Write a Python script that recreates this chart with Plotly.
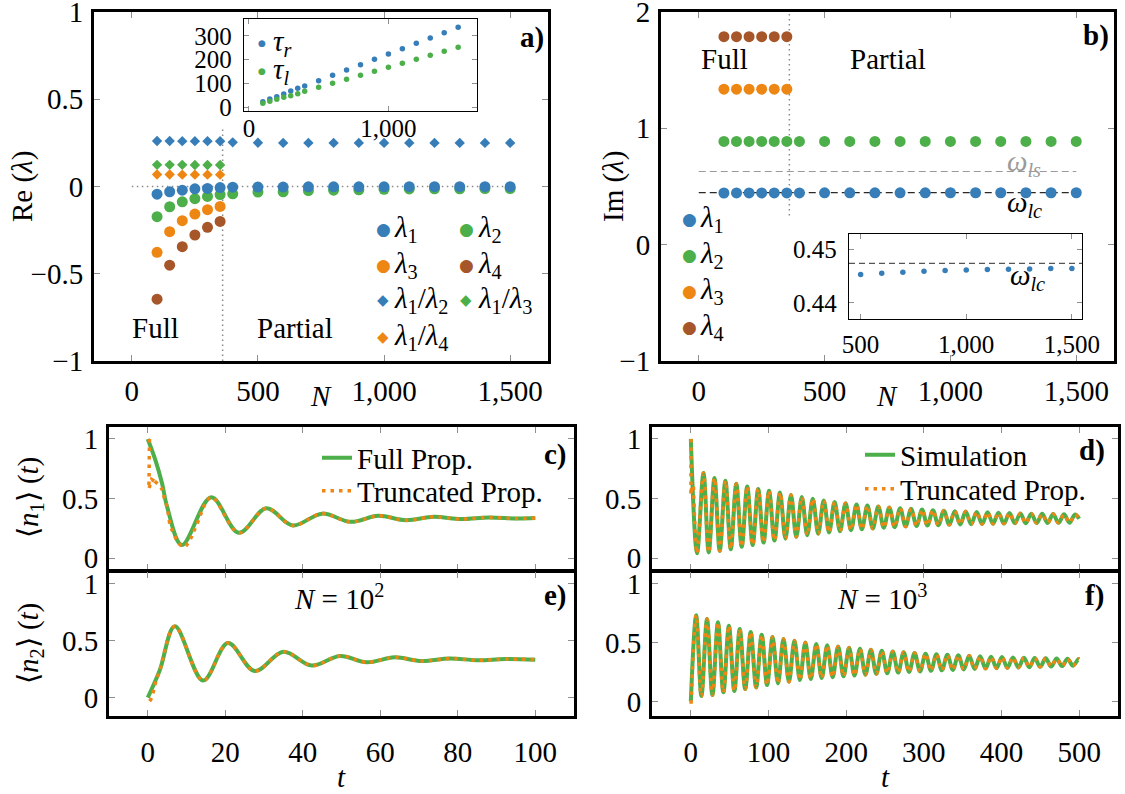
import plotly.graph_objects as go

W, H = 1125, 794
FONT = "Liberation Serif"
FS = 29          # main text size
FSI = 25         # inset tick labels
BLUE, GREEN, ORANGE, BROWN = "#377eb8", "#4daf4a", "#ee8614", "#a65628"

# ---------------- panels a) and b): eigenvalues vs N ----------------
N_all = [100, 150, 200, 250, 300, 350, 400, 500, 600, 700, 800, 900, 1000, 1100, 1200, 1300, 1400, 1500]
N_full = [100, 150, 200, 250, 300, 350]
N_line = [0, 1500]
N_boundary = 360

re_l1 = [-0.044, -0.030, -0.021, -0.013, -0.011, -0.006, -0.004, -0.003, -0.003,
         -0.002, -0.002, -0.002, -0.002, -0.001, -0.001, -0.001, -0.001, -0.001]
re_l2 = [-0.173, -0.116, -0.088, -0.070, -0.057, -0.046, -0.042, -0.032, -0.030,
         -0.023, -0.021, -0.019, -0.016, -0.014, -0.013, -0.013, -0.012, -0.012]
re_l3 = [-0.377, -0.259, -0.196, -0.158, -0.133, -0.114]
re_l4 = [-0.646, -0.451, -0.345, -0.278, -0.234, -0.200]
re_l1_l2 = [0.261, 0.261, 0.260, 0.260, 0.260, 0.259, 0.253, 0.251, 0.250,
            0.250, 0.250, 0.250, 0.250, 0.250, 0.250, 0.250, 0.250, 0.250]
re_l1_l3 = [0.124, 0.124, 0.124, 0.123, 0.123, 0.123]
re_l1_l4 = [0.069, 0.069, 0.068, 0.068, 0.068, 0.068]
re_boundary_y = [-1.0, 0.33]
re_zero_y = [0.0, 0.0]

tau_r = [23.7, 34.9, 44.7, 55.9, 68.5, 79.8, 89.5, 111.9, 134.3, 156.7, 179.0,
         201.6, 224.0, 246.4, 268.8, 291.2, 313.6, 336.0]
tau_l = [16.8, 25.2, 33.6, 42.0, 48.9, 57.3, 67.2, 84.0, 100.8, 117.6, 134.4,
         151.2, 168.0, 184.9, 201.7, 218.5, 235.3, 252.1]

im_l1 = [0.4440, 0.4443, 0.4446, 0.4448, 0.4450, 0.4451, 0.4452, 0.4453, 0.4456,
         0.4457, 0.4459, 0.4461, 0.4462, 0.4463, 0.4463, 0.4464, 0.4464, 0.4464]
im_l2 = [0.887, 0.887, 0.887, 0.887, 0.887, 0.887, 0.887, 0.887, 0.887,
         0.887, 0.887, 0.887, 0.887, 0.887, 0.887, 0.887, 0.887, 0.887]
im_l3 = [1.337, 1.337, 1.337, 1.337, 1.337, 1.337]
im_l4 = [1.788, 1.788, 1.788, 1.788, 1.788, 1.788]
omega_ls = 0.629
omega_lc = 0.4474
im_boundary_y = [0.25, 2.0]

N_zoom = [500, 600, 700, 800, 900, 1000, 1100, 1200, 1300, 1400, 1500]
im_l1_zoom = [0.44531, 0.44556, 0.44574, 0.44593, 0.44606, 0.44617, 0.44625,
              0.44631, 0.44636, 0.44644, 0.44644]
N_zoom_line = [445, 1548]

# ---------------- panels c) and e): N = 100 ----------------
c_t = [0, 2.0, 3.7, 5.0, 8.8, 16.4, 23.5, 30.6, 37.4, 45.0, 52.4, 59.5, 66.6, 73.8, 80.9, 88.0, 95.2, 100]
c_v = [1.0, 0.82, 0.626, 0.43, 0.11, 0.51, 0.212, 0.418, 0.274, 0.373, 0.304, 0.355,
       0.318, 0.346, 0.327, 0.341, 0.332, 0.336]
c_tr_start_t = [0.45, 0.3, 1.0, 1.8]
c_tr_start_v = [1.0, 0.58, 0.66, 0.645]
c_tr_early_t = [1.8, 3.7, 4.3, 5.0, 5.8, 6.8, 7.8, 9.4, 11.0, 12.5]
c_tr_early_v = [0.645, 0.576, 0.50, 0.43, 0.276, 0.20, 0.133, 0.093, 0.16, 0.27]

e_t = [0, 3.1, 7.0, 14.3, 20.7, 27.6, 35.0, 42.3, 49.6, 56.5, 63.7, 70.7, 77.9, 85.0, 92.2, 100]
e_v = [0.0, 0.24, 0.625, 0.15, 0.478, 0.233, 0.402, 0.281, 0.366, 0.31, 0.353, 0.321,
       0.343, 0.328, 0.338, 0.333]
e_tr_start_t = [0.5, 1.0, 2.0]
e_tr_start_v = [-0.03, 0.0, 0.13]

# ---------------- panels d) and f): N = 1000 (extrema read off the curves) ----------------
d_start = (0.0, 1.0)
d_end = (500.0, 0.33)
d_trough_t = [8.0, 23.0, 37.2, 51.4, 65.5, 79.6, 93.6, 107.7, 121.8, 135.8, 149.9, 164.0,
              178.0, 192.1, 206.2, 220.2, 234.3, 248.4, 262.4, 276.5, 290.6, 304.6, 318.7,
              332.8, 346.8, 360.9, 375.0, 389.0, 403.1, 417.2, 431.2, 445.3, 459.4, 473.4, 487.5]
d_trough_v = [0.040, 0.047, 0.060, 0.075, 0.095, 0.110, 0.130, 0.148, 0.163, 0.178, 0.192,
              0.205, 0.215, 0.225, 0.234, 0.242, 0.249, 0.255, 0.260, 0.265, 0.269, 0.273,
              0.276, 0.279, 0.282, 0.284, 0.286, 0.288, 0.290, 0.292, 0.293, 0.294, 0.295,
              0.296, 0.297]
d_peak_t = [16.3, 30.4, 44.5, 58.5, 72.6, 86.7, 100.7, 114.8, 128.9, 142.9, 157.0, 171.1,
            185.1, 199.2, 213.3, 227.3, 241.4, 255.5, 269.5, 283.6, 297.7, 311.7, 325.8,
            339.9, 353.9, 368.0, 382.1, 396.1, 410.2, 424.3, 438.3, 452.4, 466.5, 480.5, 494.6]
d_peak_v = [0.713, 0.673, 0.650, 0.623, 0.600, 0.580, 0.564, 0.550, 0.530, 0.512, 0.497,
            0.483, 0.470, 0.460, 0.450, 0.441, 0.433, 0.425, 0.419, 0.413, 0.407, 0.402,
            0.398, 0.394, 0.390, 0.387, 0.384, 0.381, 0.378, 0.375, 0.373, 0.371, 0.369,
            0.367, 0.365]
d_tr_start_t = [0.25, 0.15, 1.2, 3.4]
d_tr_start_v = [1.0, 0.53, 0.60, 0.60]

f_start = (0.0, 0.0)
f_end = (500.0, 0.359)
f_peak_t = [6.9, 20.8, 34.9, 49.0, 63.0, 77.1, 91.2, 105.2, 119.3, 133.4, 147.4, 161.5,
            175.6, 189.6, 203.7, 217.8, 231.8, 245.9, 260.0, 274.0, 288.1, 302.2, 316.2,
            330.3, 344.4, 358.4, 372.5, 386.6, 400.6, 414.7, 428.8, 442.8, 456.9, 471.0,
            485.0, 499.1]
f_peak_v = [0.733, 0.700, 0.672, 0.644, 0.616, 0.590, 0.567, 0.547, 0.530, 0.515, 0.500,
            0.488, 0.477, 0.466, 0.456, 0.447, 0.439, 0.431, 0.424, 0.418, 0.412, 0.406,
            0.401, 0.396, 0.392, 0.388, 0.384, 0.380, 0.377, 0.374, 0.371, 0.368, 0.366,
            0.364, 0.362, 0.360]
f_trough_t = [13.6, 27.8, 41.9, 56.0, 70.0, 84.1, 98.2, 112.2, 126.3, 140.4, 154.4, 168.5,
              182.6, 196.6, 210.7, 224.8, 238.8, 252.9, 267.0, 281.0, 295.1, 309.2, 323.2,
              337.3, 351.4, 365.4, 379.5, 393.6, 407.6, 421.7, 435.8, 449.8, 463.9, 478.0, 492.0]
f_trough_v = [0.045, 0.054, 0.077, 0.088, 0.105, 0.119, 0.139, 0.153, 0.167, 0.181, 0.190,
              0.198, 0.206, 0.213, 0.220, 0.227, 0.233, 0.239, 0.245, 0.250, 0.255, 0.260,
              0.264, 0.268, 0.272, 0.276, 0.279, 0.282, 0.285, 0.288, 0.291, 0.294, 0.297,
              0.300, 0.303]
f_tr_start_t = [0.3]
f_tr_start_v = [-0.02]

# ---------------- assemble curves from extrema ----------------
d_t, d_v = [d_start[0]], [d_start[1]]
for a, b, c, e in zip(d_trough_t, d_trough_v, d_peak_t, d_peak_v):
    d_t += [a, c]
    d_v += [b, e]
d_t.append(d_end[0]); d_v.append(d_end[1])

f_t, f_v = [f_start[0]], [f_start[1]]
for i in range(len(f_peak_t)):
    f_t.append(f_peak_t[i]); f_v.append(f_peak_v[i])
    if i < len(f_trough_t):
        f_t.append(f_trough_t[i]); f_v.append(f_trough_v[i])
f_t.append(f_end[0]); f_v.append(f_end[1])

# ---------------- helpers ----------------
def dom_x(x0, x1):
    return [x0 / W, x1 / W]

def dom_y(top, bottom):
    return [1 - bottom / H, 1 - top / H]

def P(x, y):
    return x / W, 1 - y / H

def axis(domain, rng, anchor, tickvals, ticktext=None, lw=3, tl=6, labels=True,
         standoff=None, size=FS):
    d = dict(domain=domain, range=rng, anchor=anchor, tickmode="array", tickvals=tickvals,
             showline=True, linewidth=lw, linecolor="black", mirror="allticks",
             ticks="inside", ticklen=tl, tickwidth=1, tickcolor="#8f8f8f",
             showgrid=False, zeroline=False, showticklabels=labels, fixedrange=True,
             ticklabeloverflow="allow", automargin=False,
             tickfont=dict(family=FONT, size=size, color="black"))
    if ticktext is not None:
        d["ticktext"] = ticktext
    if standoff is not None:
        d["ticklabelstandoff"] = standoff
    return d

def pts(x, y, ax, color, size, symbol="circle"):
    return go.Scatter(x=x, y=y, mode="markers", xaxis="x" + ax, yaxis="y" + ax,
                      marker=dict(color=color, size=size, symbol=symbol, line=dict(width=0)),
                      showlegend=False, hoverinfo="skip")

def ln(x, y, ax, color, width, dash="solid", shape="linear", name=None, legend=None):
    t = go.Scatter(x=x, y=y, mode="lines", xaxis="x" + ax, yaxis="y" + ax,
                   line=dict(color=color, width=width, dash=dash, shape=shape, smoothing=1.0),
                   hoverinfo="skip", showlegend=name is not None, name=name or "")
    if legend:
        t.legend = legend
    return t

def note(text, x, y, size=FS, color="black", xanchor="center", yanchor="middle",
         xref="paper", yref="paper", angle=0, family=FONT):
    return dict(text=text, x=x, y=y, xref=xref, yref=yref, showarrow=False,
                font=dict(family=family, size=size, color=color),
                xanchor=xanchor, yanchor=yanchor, textangle=angle)

fig = go.Figure()

# ---- a) ----
fig.add_trace(ln(N_line, re_zero_y, "", "#8a8a8a", 1.5, dash="1.5px,3.5px"))
fig.add_trace(ln([N_boundary, N_boundary], re_boundary_y, "", "#8a8a8a", 1.5, dash="1.5px,3.5px"))
fig.add_trace(pts(N_all, re_l1_l2, "", BLUE, 8, "diamond"))
fig.add_trace(pts(N_full, re_l1_l3, "", GREEN, 8, "diamond"))
fig.add_trace(pts(N_full, re_l1_l4, "", ORANGE, 8, "diamond"))
fig.add_trace(pts(N_full, re_l4, "", BROWN, 11))
fig.add_trace(pts(N_full, re_l3, "", ORANGE, 11))
fig.add_trace(pts(N_all, re_l2, "", GREEN, 11))
fig.add_trace(pts(N_all, re_l1, "", BLUE, 11))
# inset a
fig.add_trace(pts(N_all, tau_r, "2", BLUE, 5.5))
fig.add_trace(pts(N_all, tau_l, "2", GREEN, 5.5))

# ---- b) ----
fig.add_trace(ln([N_boundary, N_boundary], im_boundary_y, "3", "#8a8a8a", 1.5, dash="1.5px,3.5px"))
fig.add_trace(ln(N_line, [omega_ls, omega_ls], "3", "#9a9a9a", 1.2, dash="7px,4px"))
fig.add_trace(ln(N_line, [omega_lc, omega_lc], "3", "#2a2a2a", 1.2, dash="7px,4px"))
fig.add_trace(pts(N_full, im_l4, "3", BROWN, 11))
fig.add_trace(pts(N_full, im_l3, "3", ORANGE, 11))
fig.add_trace(pts(N_all, im_l2, "3", GREEN, 11))
fig.add_trace(pts(N_all, im_l1, "3", BLUE, 11))
# inset b
fig.add_trace(ln(N_zoom_line, [omega_lc, omega_lc], "4", "#555555", 1.3, dash="6px,4px"))
fig.add_trace(pts(N_zoom, im_l1_zoom, "4", BLUE, 5.5))

# ---- c) ----
fig.add_trace(ln(c_t, c_v, "5", GREEN, 4, shape="spline", name="Full Prop.", legend="legend"))
fig.add_trace(ln(c_tr_start_t, c_tr_start_v, "5", ORANGE, 3.5, dash="3.5px,5px"))
fig.add_trace(ln(c_tr_early_t + c_t[5:], c_tr_early_v + c_v[5:], "5", ORANGE, 3.5,
                 dash="3.5px,5px", shape="spline", name="Truncated Prop.", legend="legend3"))
# ---- e) ----
fig.add_trace(ln(e_t, e_v, "7", GREEN, 4, shape="spline"))
fig.add_trace(ln(e_tr_start_t + e_t[1:], e_tr_start_v + e_v[1:], "7", ORANGE, 3.5,
                 dash="3.5px,5px", shape="spline"))
# ---- d) ----
fig.add_trace(ln(d_t, d_v, "6", GREEN, 4, shape="spline", name="Simulation", legend="legend2"))
fig.add_trace(ln(d_tr_start_t, d_tr_start_v, "6", ORANGE, 3.5, dash="3.5px,5px"))
fig.add_trace(ln(d_tr_start_t[-1:] + d_t[1:], d_tr_start_v[-1:] + d_v[1:], "6", ORANGE, 3.5,
                 dash="3.5px,5px", shape="spline", name="Truncated Prop.", legend="legend4"))
# ---- f) ----
fig.add_trace(ln(f_t, f_v, "8", GREEN, 4, shape="spline"))
fig.add_trace(ln(f_tr_start_t + f_t[1:], f_tr_start_v + f_v[1:], "8", ORANGE, 3.5,
                 dash="3.5px,5px", shape="spline"))

# ---------------- axes ----------------
Nticks = [0, 500, 1000, 1500]
Nlabels = ["0", "500", "1,000", "1,500"]
lay = dict(
    xaxis=axis(dom_x(94, 548), [-150, 1650], "y", Nticks, Nlabels, standoff=2),
    yaxis=axis(dom_y(12, 361), [-1, 1], "x", [-1, -0.5, 0, 0.5, 1],
               ["\u22121", "\u22120.5", "0", "0.5", "1"], standoff=2),
    xaxis2=axis(dom_x(244, 477), [-35, 1635], "y2", [0, 1000], ["0", "1,000"], lw=1.3, tl=5,
                standoff=-5, size=FSI),
    yaxis2=axis(dom_y(19, 111), [-15.5, 371], "x2", [0, 100, 200, 300], lw=1.3, tl=5,
                standoff=6, size=FSI),
    xaxis3=axis(dom_x(661, 1114), [-150, 1650], "y3", Nticks, Nlabels, standoff=2),
    yaxis3=axis(dom_y(12, 361), [-1, 2], "x3", [-1, 0, 1, 2], ["\u22121", "0", "1", "2"], standoff=2),
    xaxis4=axis(dom_x(849, 1082), [445, 1548], "y4", [500, 1000, 1500], ["500", "1,000", "1,500"],
                lw=1.3, tl=5, standoff=3, size=FSI),
    yaxis4=axis(dom_y(234, 319), [0.437, 0.4529], "x4", [0.44, 0.45], ["0.44", "0.45"],
                lw=1.3, tl=5, standoff=6, size=FSI),
    xaxis5=axis(dom_x(109, 574), [-10, 110], "y5", [0, 20, 40, 60, 80, 100], labels=False),
    yaxis5=axis(dom_y(427, 570), [-0.1, 1.1], "x5", [0, 0.5, 1], ["0", "0.5", "1"], standoff=2),
    xaxis6=axis(dom_x(652, 1118), [-50, 550], "y6", [0, 100, 200, 300, 400, 500], labels=False),
    yaxis6=axis(dom_y(427, 570), [-0.1, 1.1], "x6", [0, 0.5, 1], ["0", "0.5", "1"], standoff=2),
    xaxis7=axis(dom_x(109, 574), [-10, 110], "y7", [0, 20, 40, 60, 80, 100], standoff=8),
    yaxis7=axis(dom_y(572, 716), [-0.16, 1.1], "x7", [0, 0.5, 1], ["0", "0.5", "1"], standoff=2),
    xaxis8=axis(dom_x(652, 1118), [-50, 550], "y8", [0, 100, 200, 300, 400, 500], standoff=8),
    yaxis8=axis(dom_y(572, 716), [-0.124, 1.1], "x8", [0, 0.5, 1], ["0", "0.5", "1"], standoff=2),
)

# ---------------- text ----------------
L = "<i>\u03bb</i>"
ann = []
# axis titles
ann.append(note("Re (" + L + ")", *P(23, 187), angle=-90))
ann.append(note("Im (" + L + ")", *P(614, 187), angle=-90))
ann.append(note("<i>N</i>", *P(321, 396)))
ann.append(note("<i>N</i>", *P(887, 396)))
ann.append(note("\u27e8<i>n</i><sub>1</sub>\u27e9 (<i>t</i>)", *P(30, 498), angle=-90))
ann.append(note("\u27e8<i>n</i><sub>2</sub>\u27e9 (<i>t</i>)", *P(30, 644), angle=-90))
ann.append(note("<i>t</i>", *P(341, 777)))
ann.append(note("<i>t</i>", *P(885, 777)))
# panel labels
for lab, x, y in [("a)", 546, 37), ("b)", 1111, 35), ("c)", 569, 455),
                  ("d)", 1107, 450), ("e)", 569, 595), ("f)", 1106, 595)]:
    ann.append(note("<b>" + lab + "</b>", *P(x, y), xanchor="right"))
# region labels
ann.append(note("Full", 95, -0.81, xref="x", yref="y"))
ann.append(note("Partial", 646, -0.81, xref="x", yref="y"))
ann.append(note("Full", 103, 1.60, xref="x3", yref="y3"))
ann.append(note("Partial", 752, 1.60, xref="x3", yref="y3"))
# omega labels
ann.append(note("<i>\u03c9</i><sub><i>ls</i></sub>", 1294, 0.70, xref="x3", yref="y3", color="#9a9a9a"))
ann.append(note("<i>\u03c9</i><sub><i>lc</i></sub>", 1294, 0.35, xref="x3", yref="y3"))
ann.append(note("<i>\u03c9</i><sub><i>lc</i></sub>", 1291, 0.4448, xref="x4", yref="y4"))
# N labels
ann.append(note("<i>N</i> = 10<sup>2</sup>", *P(339, 597)))
ann.append(note("<i>N</i> = 10<sup>3</sup>", *P(882, 597)))

# marker keys (a, b, inset a)
def key(glyph, color, gx, text, tx, y, gsize=17):
    ann.append(note(glyph, *P(gx, y), size=gsize, color=color, family="DejaVu Sans"))
    ann.append(note(text, *P(tx, y), xanchor="left"))

CIR, DIA = "\u25cf", "\u25c6"
rows = [229, 265, 300, 337]
key(CIR, BLUE, 383, L + "<sub>1</sub>", 392, rows[0])
key(CIR, ORANGE, 383, L + "<sub>3</sub>", 392, rows[1])
key(DIA, BLUE, 383, L + "<sub>1</sub>/" + L + "<sub>2</sub>", 392, rows[2], 15)
key(DIA, ORANGE, 383, L + "<sub>1</sub>/" + L + "<sub>4</sub>", 392, rows[3], 15)
key(CIR, GREEN, 466, L + "<sub>2</sub>", 476, rows[0])
key(CIR, BROWN, 466, L + "<sub>4</sub>", 476, rows[1])
key(DIA, GREEN, 466, L + "<sub>1</sub>/" + L + "<sub>3</sub>", 476, rows[2], 15)

rows_b = [219, 255, 291, 327]
for col, i, y in [(BLUE, 1, rows_b[0]), (GREEN, 2, rows_b[1]), (ORANGE, 3, rows_b[2]), (BROWN, 4, rows_b[3])]:
    key(CIR, col, 689, L + "<sub>%d</sub>" % i, 698, y)

key(CIR, BLUE, 262, "<i>\u03c4</i><sub><i>r</i></sub>", 271, 43, 9)
key(CIR, GREEN, 262, "<i>\u03c4</i><sub><i>l</i></sub>", 271, 71, 9)

def leg(xpx, ypx):
    return dict(x=xpx / W, y=1 - ypx / H, xanchor="left", yanchor="middle",
                bgcolor="rgba(0,0,0,0)", font=dict(family=FONT, size=FS, color="black"),
                tracegroupgap=0, itemwidth=30)

fig.update_layout(
    **lay,
    annotations=ann,
    width=W, height=H, margin=dict(l=0, r=0, t=0, b=0, autoexpand=False),
    paper_bgcolor="white", plot_bgcolor="white",
    showlegend=True,
    legend=leg(317, 458),
    legend3=leg(317, 491),
    legend2=leg(860, 455),
    legend4=leg(860, 489),
)

fig.write_html("out.html",
               post_script="document.body.style.margin='0';document.body.style.overflow='hidden';")
